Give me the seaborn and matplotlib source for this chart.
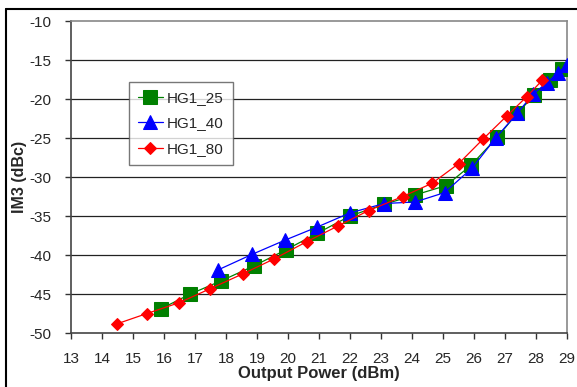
import matplotlib
matplotlib.use("Agg")
import matplotlib.pyplot as plt
import seaborn as sns
import pandas as pd
from matplotlib.lines import Line2D

# ---- data ----
x_25 = [15.9, 16.85, 17.85, 18.9, 19.95, 20.95, 22.0, 23.1, 24.1, 25.1, 25.9, 26.75, 27.4, 27.95, 28.45, 28.85]
y_25 = [-46.9, -45.0, -43.3, -41.4, -39.3, -37.2, -35.0, -33.5, -32.3, -31.1, -28.5, -24.9, -21.8, -19.5, -17.6, -16.1]

x_40 = [17.75, 18.85, 19.9, 20.95, 22.0, 23.1, 24.1, 25.05, 25.95, 26.7, 27.4, 27.9, 28.35, 28.7, 29.0]
y_40 = [-41.9, -39.9, -38.1, -36.4, -34.6, -33.4, -33.2, -32.0, -28.8, -25.0, -21.8, -19.4, -17.9, -16.7, -15.6]

x_80 = [14.5, 15.45, 16.5, 17.5, 18.55, 19.55, 20.6, 21.6, 22.6, 23.7, 24.65, 25.5, 26.3, 27.05, 27.7, 28.2]
y_80 = [-48.8, -47.5, -46.1, -44.3, -42.4, -40.5, -38.3, -36.3, -34.3, -32.5, -30.8, -28.3, -25.1, -22.2, -19.7, -17.6]

series_names = ["HG1_25", "HG1_40", "HG1_80"]
x_ticks = list(range(13, 30))
y_ticks = [-10, -15, -20, -25, -30, -35, -40, -45, -50]
x_label = "Output Power (dBm)"
y_label = "IM3 (dBc)"

df = pd.concat([
    pd.DataFrame({"x": x_25, "y": y_25, "s": series_names[0]}),
    pd.DataFrame({"x": x_40, "y": y_40, "s": series_names[1]}),
    pd.DataFrame({"x": x_80, "y": y_80, "s": series_names[2]}),
])

sns.set_style("white")
plt.rcParams["font.family"] = ["Liberation Sans", "DejaVu Sans"]

fig = plt.figure(figsize=(5.77, 3.87), dpi=100)
ax = fig.add_axes([0.123, 0.1395, 0.8597, 0.8062])

styles = {
    "HG1_25": dict(color="#008000", marker="s", markersize=10),
    "HG1_40": dict(color="#0000FF", marker="^", markersize=10),
    "HG1_80": dict(color="#FF0000", marker="D", markersize=6.5),
}
for name in series_names:
    st = styles[name]
    sns.lineplot(data=df[df["s"] == name], x="x", y="y", ax=ax,
                 color=st["color"], marker=st["marker"], markersize=st["markersize"],
                 markeredgecolor=st["color"], linewidth=0.9, label=name, zorder=3)

ax.set_xlim(13, 29)
ax.set_ylim(-50, -10)
ax.set_xticks(x_ticks)
ax.set_xticklabels([str(t) for t in x_ticks])
ax.set_yticks(y_ticks)
ax.set_yticklabels([str(t) for t in y_ticks])
ax.tick_params(axis="both", labelsize=11, direction="out", length=4, width=1,
               color="#333333", left=True, bottom=True)
ax.tick_params(axis="x", pad=10)
ax.tick_params(axis="y", pad=10)

for y in y_ticks[1:-1]:
    ax.axhline(y, color="#222222", linewidth=0.9, zorder=1)

ax.spines["left"].set_color("#444444")
ax.spines["bottom"].set_color("#444444")
ax.spines["left"].set_linewidth(1.2)
ax.spines["bottom"].set_linewidth(1.2)
ax.spines["top"].set_color("#888888")
ax.spines["right"].set_color("#888888")
ax.spines["top"].set_linewidth(1.2)
ax.spines["right"].set_linewidth(1.2)

ax.set_xlabel(x_label, fontsize=12, fontweight="bold", labelpad=0)
ax.set_ylabel(y_label, fontsize=11.5, fontweight="bold", labelpad=2)

leg = ax.legend(loc="upper left", bbox_to_anchor=(0.117, 0.805), borderaxespad=0,
                fontsize=11, frameon=True, fancybox=False, handlelength=1.6,
                handletextpad=0.3, labelspacing=0.75, borderpad=0.6)
leg.get_frame().set_edgecolor("#555555")
leg.get_frame().set_linewidth(1.0)

# outer frame of the figure (top and left)
fig.add_artist(Line2D([0.0104, 1.0], [0.9767, 0.9767], transform=fig.transFigure,
                      color="black", linewidth=1.5))
fig.add_artist(Line2D([0.0104, 0.0104], [0.0, 0.9767], transform=fig.transFigure,
                      color="black", linewidth=1.5))

fig.savefig("out.png", dpi=100)
